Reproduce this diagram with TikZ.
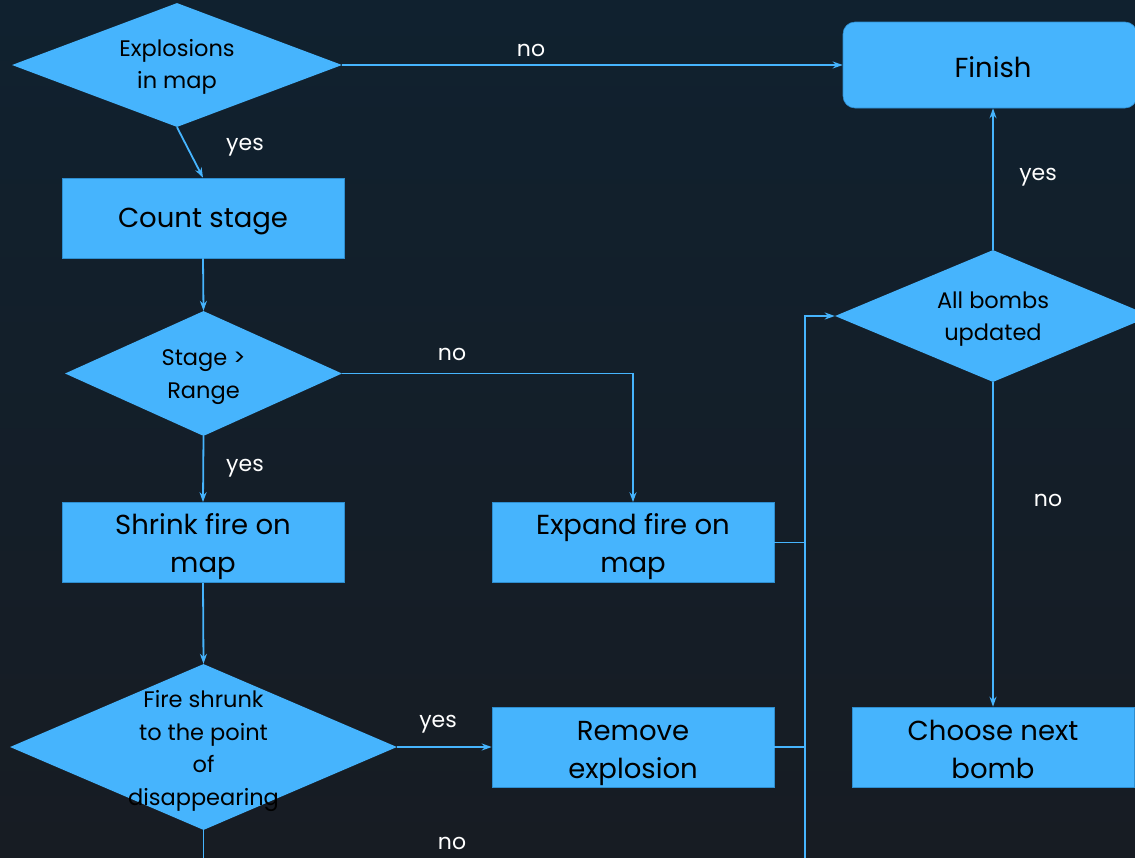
\documentclass[tikz,border=0pt]{standalone}
\usepackage{fontspec}
\setmainfont{Poppins}
\usetikzlibrary{shapes.geometric,arrows.meta}
\definecolor{bgtop}{HTML}{10212F}
\definecolor{bgbot}{HTML}{171C23}
\definecolor{fb}{HTML}{46B4FD}
\definecolor{edgeb}{HTML}{2E8ED0}
\begin{document}
\begin{tikzpicture}[x=1pt,y=-1pt,
  box/.style={rectangle, fill=fb, draw=edgeb, line width=0.6pt, minimum width=282pt, minimum height=80pt, inner sep=0pt},
  btext/.style={font=\fontsize{27.5}{38}\selectfont, align=center, text=black, inner sep=0pt},
  dia/.style={diamond, fill=fb, inner sep=0pt},
  dtext/.style={font=\fontsize{22.5}{32.5}\selectfont, align=center, text=black, inner sep=0pt},
  lbl/.style={text=white, font=\fontsize{22}{25}\selectfont},
  conn/.style={draw=fb, line width=1.8pt, -{Stealth[length=10pt,width=7pt]}},
  plain/.style={draw=fb, line width=1.8pt}]
\useasboundingbox (0,0) rectangle (1135,857);
\shade[top color=bgtop,bottom color=bgbot] (0,0) rectangle (1135,857);
\clip (0,0) rectangle (1135,857);
% nodes
\node[dia, minimum width=330pt, minimum height=124pt] (d1) at (177,65) {};
\node[dtext] (d1t) at (177,67) {Explosions\\in map};
\node[box, rounded corners=12pt, minimum width=294pt, minimum height=86pt] (finish) at (990,65) {};
\node[btext] (finisht) at (993,67) {Finish};
\node[box] (count) at (203,218) {};
\node[btext] (countt) at (203,222) {Count stage};
\node[dia, minimum width=277pt, minimum height=125pt] (d2) at (203.5,373.5) {};
\node[dtext] (d2t) at (203.5,377) {Stage >\\Range};
\node[box] (shrink) at (203,542.5) {};
\node[btext] (shrinkt) at (203,547) {Shrink fire on\\map};
\node[box] (expand) at (633,542.5) {};
\node[btext] (expandt) at (633,547) {Expand fire on\\map};
\node[dia, minimum width=387pt, minimum height=166pt] (d3) at (203.5,747) {};
\node[dtext] (d3t) at (203.5,751) {Fire shrunk\\to the point\\of\\disappearing};
\node[box] (remove) at (633,747) {};
\node[btext] (removet) at (633,753) {Remove\\explosion};
\node[dia, minimum width=316pt, minimum height=132pt] (d4) at (993,316) {};
\node[dtext] (d4t) at (993,319) {All bombs\\updated};
\node[box] (choose) at (993,747) {};
\node[btext] (chooset) at (993,749) {Choose next\\bomb};
\coordinate (d3out) at (203.5,880);
\coordinate (bus) at (805,880);
% connectors
\draw[conn] (d1.east) -- (finish.west);
\draw[conn] (d1.south) -- (count.north);
\draw[conn] (count.south) -- (d2.north);
\draw[conn] (d2.east) -| (expand.north);
\draw[conn] (d2.south) -- (shrink.north);
\draw[conn] (shrink.south) -- (d3.north);
\draw[conn] (d3.east) -- (remove.west);
\draw[plain] (d3.south) -- (d3out);
\draw[plain] (expand.east) -- (expand.east -| bus);
\draw[plain] (remove.east) -- (remove.east -| bus);
\draw[conn] (bus) |- (d4.west);
\draw[conn] (d4.north) -- (d4.north |- finish.south);
\draw[conn] (d4.south) -- (choose.north);
% labels
\node[lbl] (l1) at (531,50) {no};
\node[lbl] (l2) at (245,147) {yes};
\node[lbl] (l3) at (452,354) {no};
\node[lbl] (l4) at (245,468) {yes};
\node[lbl] (l5) at (438,724) {yes};
\node[lbl] (l6) at (452,843) {no};
\node[lbl] (l7) at (1038,177) {yes};
\node[lbl] (l8) at (1048,500) {no};
\end{tikzpicture}
\end{document}
